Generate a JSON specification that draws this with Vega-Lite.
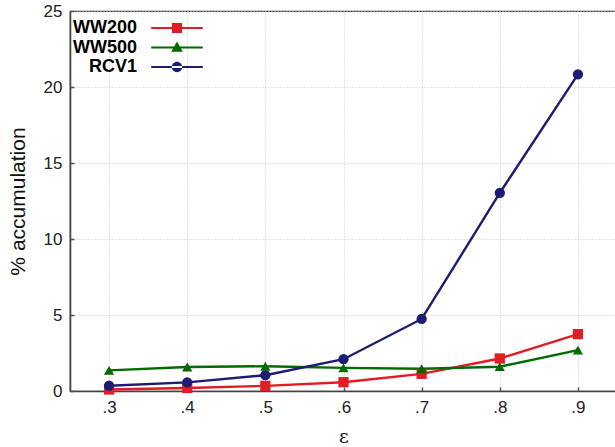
{
  "$schema": "https://vega.github.io/schema/vega-lite/v6.json",
  "width": 547,
  "height": 380,
  "autosize": {"type": "none"},
  "padding": {"left": 70, "top": 11, "right": 0, "bottom": 56},
  "background": "white",
  "config": {
    "font": "Liberation Sans",
    "view": {"stroke": "#333333", "strokeWidth": 1.2},
    "axis": {
      "labelFont": "Liberation Sans",
      "labelFontSize": 17,
      "labelColor": "#222222",
      "titleFont": "Liberation Sans",
      "titleFontWeight": "normal",
      "titleColor": "#111111",
      "gridColor": "#c8c8c8",
      "gridDash": [1, 2],
      "gridWidth": 1,
      "domainColor": "#444444",
      "domainWidth": 1.6,
      "tickColor": "#555555",
      "tickSize": -4,
      "tickWidth": 1.5
    }
  },
  "data": {
    "values": [
      {"eps": 0.3, "series": "WW200", "pct": 0.1},
      {"eps": 0.4, "series": "WW200", "pct": 0.2},
      {"eps": 0.5, "series": "WW200", "pct": 0.34},
      {"eps": 0.6, "series": "WW200", "pct": 0.58},
      {"eps": 0.7, "series": "WW200", "pct": 1.13},
      {"eps": 0.8, "series": "WW200", "pct": 2.14},
      {"eps": 0.9, "series": "WW200", "pct": 3.74},
      {"eps": 0.3, "series": "WW500", "pct": 1.36},
      {"eps": 0.4, "series": "WW500", "pct": 1.58},
      {"eps": 0.5, "series": "WW500", "pct": 1.63},
      {"eps": 0.6, "series": "WW500", "pct": 1.52},
      {"eps": 0.7, "series": "WW500", "pct": 1.46},
      {"eps": 0.8, "series": "WW500", "pct": 1.6},
      {"eps": 0.9, "series": "WW500", "pct": 2.69},
      {"eps": 0.3, "series": "RCV1", "pct": 0.35},
      {"eps": 0.4, "series": "RCV1", "pct": 0.57},
      {"eps": 0.5, "series": "RCV1", "pct": 1.04},
      {"eps": 0.6, "series": "RCV1", "pct": 2.09},
      {"eps": 0.7, "series": "RCV1", "pct": 4.74},
      {"eps": 0.8, "series": "RCV1", "pct": 13.03},
      {"eps": 0.9, "series": "RCV1", "pct": 20.83}
    ]
  },
  "encoding": {
    "x": {
      "field": "eps",
      "type": "quantitative",
      "scale": {"domain": [0.25, 0.95], "nice": false, "zero": false},
      "axis": {
        "values": [0.3, 0.4, 0.5, 0.6, 0.7, 0.8, 0.9],
        "labelExpr": "replace(format(datum.value, '.1f'), '0.', '.')",
        "labelPadding": 12,
        "title": "ε",
        "titleFont": "DejaVu Serif",
        "titleFontSize": 19,
        "titlePadding": 12
      }
    },
    "y": {
      "field": "pct",
      "type": "quantitative",
      "scale": {"domain": [0, 25], "nice": false},
      "axis": {
        "values": [0, 5, 10, 15, 20, 25],
        "labelPadding": 12,
        "title": "% accumulation",
        "titleFontSize": 21,
        "titlePadding": 15
      }
    },
    "color": {
      "field": "series",
      "type": "nominal",
      "scale": {"domain": ["WW200", "WW500", "RCV1"], "range": ["#e31b23", "#006a00", "#1c1c72"]},
      "legend": {
        "title": null,
        "orient": "top-left",
        "offset": 8,
        "padding": 0,
        "labelFont": "Liberation Sans",
        "labelFontSize": 18,
        "labelFontWeight": "bold",
        "labelColor": "#000000",
        "labelAlign": "right",
        "symbolSize": 277,
        "symbolStrokeWidth": 0,
        "rowPadding": 1.5,
        "labelOffset": -49,
        "symbolOffset": 90,
        "encode": {
          "symbols": {
            "update": {
              "shape": {"signal": "datum.value == 'WW200' ? 'M-3.1,-0.12H3.1V0.12H-3.1Z M-0.6,-0.6H0.6V0.6H-0.6Z' : datum.value == 'WW500' ? 'M-3.1,-0.12H3.1V0.12H-3.1Z M0,-0.72L0.7,0.5H-0.7Z' : 'M-3.1,-0.12H3.1V0.12H-3.1Z M-0.62,0A0.62,0.62 0 1,0 0.62,0A0.62,0.62 0 1,0 -0.62,0Z'"},
              "fill": {"scale": "color", "field": "value"},
              "strokeWidth": {"value": 0},
              "size": {"value": 277}
            }
          }
        }
      }
    }
  },
  "layer": [
    {
      "mark": {"type": "line", "strokeWidth": 2.4}
    },
    {
      "transform": [{"filter": "datum.series == 'WW200'"}],
      "mark": {"type": "point", "shape": "square", "filled": true, "opacity": 1, "size": 105}
    },
    {
      "transform": [{"filter": "datum.series == 'WW500'"}],
      "mark": {"type": "point", "shape": "triangle-up", "filled": true, "opacity": 1, "size": 105}
    },
    {
      "transform": [{"filter": "datum.series == 'RCV1'"}],
      "mark": {"type": "point", "shape": "circle", "filled": true, "opacity": 1, "size": 105}
    }
  ]
}
